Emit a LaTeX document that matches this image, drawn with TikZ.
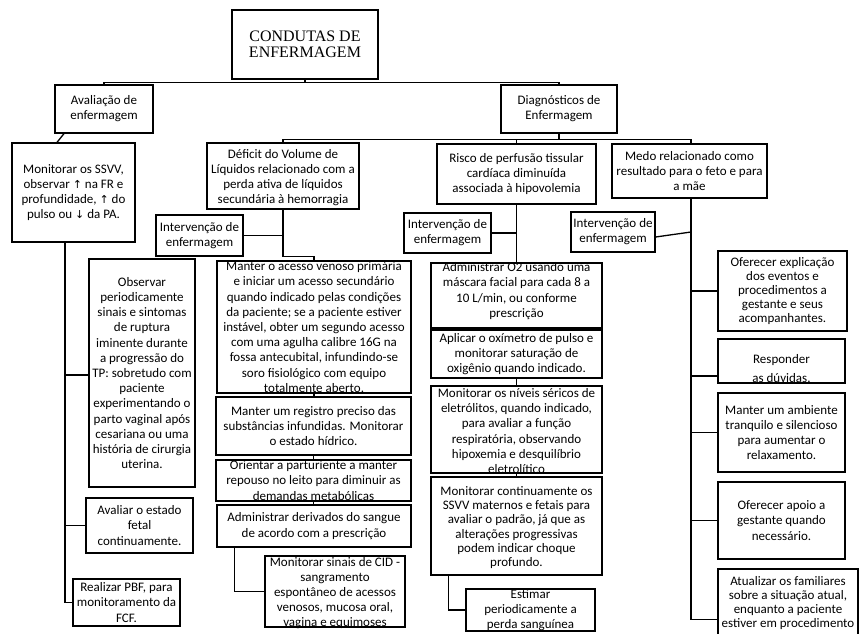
\documentclass[tikz,border=0pt]{standalone}
\usepackage{fontspec}
\setmainfont{Carlito}
\newfontfamily\titlefont{Liberation Serif}
\newfontfamily\arrfont{DejaVu Sans}
\tikzset{
  boxst/.style={draw=black, line width=1.3pt, inner sep=0pt, fill=white},
  txt/.style={inner sep=0pt, align=center, font=\fontsize{13}{15.2}\selectfont},
  tight/.style={font=\fontsize{13}{14.2}\selectfont},
  conn/.style={draw=black, line width=1.3pt},
}
\newcommand\mybox[7][]{%
  \pgfmathsetmacro\mbw{#5-#3}\pgfmathsetmacro\mbh{#6-#4}%
  \node[boxst, minimum width=\mbw pt, minimum height=\mbh pt] (#2) at ({(#3+#5)/2},{(#4+#6)/2}) {};%
  \node[txt,#1] (#2t) at (#2) {#7};}
\newcommand\up{{\arrfont\fontsize{11}{13}\selectfont ↑}}
\newcommand\dn{{\arrfont\fontsize{11}{13}\selectfont ↓}}
\begin{document}
\begin{tikzpicture}[x=1pt,y=-1pt]
\useasboundingbox (0,0) rectangle (859,634);
% boxes
\mybox[font=\titlefont\fontsize{16}{16.5}\selectfont]{title}{232}{10}{378}{79}{CONDUTAS DE\\ENFERMAGEM}
\mybox{aval}{55}{85}{153}{133}{Avaliação de\\enfermagem}
\mybox{diag}{501}{85}{617}{133}{Diagnósticos de\\Enfermagem}
% left column
\mybox{ssvv}{12}{143}{135}{242}{Monitorar os SSVV,\\observar \up\ na FR e\\profundidade, \up\ do\\pulso ou \dn\ da PA.}
\mybox{obs}{89}{259}{195}{487}{Observar\\periodicamente\\sinais e sintomas\\de ruptura\\iminente durante\\a progressão do\\TP: sobretudo com\\paciente\\experimentando o\\parto vaginal após\\cesariana ou uma\\história de cirurgia\\uterina.}
\mybox{fetal}{86}{498}{193}{553}{Avaliar o estado\\fetal\\continuamente.}
\mybox{pbf}{73}{579}{180}{626}{Realizar PBF, para\\monitoramento da\\FCF.}
% deficit column
\mybox[yshift=-1.5pt]{def}{207}{143}{359}{209}{Déficit do Volume de\\Líquidos relacionado com a\\perda ativa de líquidos\\secundária à hemorragia}
\mybox{intA}{156}{215}{243}{256}{Intervenção de\\enfermagem}
\mybox{acesso}{217}{261}{411}{393}{Manter o acesso venoso primária\\e iniciar um acesso secundário\\quando indicado pelas condições\\da paciente; se a paciente estiver\\instável, obter um segundo acesso\\com uma agulha calibre 16G na\\fossa antecubital, infundindo-se\\soro fisiológico com equipo\\totalmente aberto.}
\mybox{reg}{216}{397}{411}{455}{Manter um registro preciso das\\substâncias infundidas. Monitorar\\o estado hídrico.}
\mybox{ori}{216}{460}{411}{501}{Orientar a parturiente a manter\\repouso no leito para diminuir as\\demandas metabólicas}
\mybox{adm}{217}{505}{411}{547}{Administrar derivados do sangue\\de acordo com a prescrição}
\mybox[yshift=-1.5pt]{cid}{265}{556}{405}{627}{Monitorar sinais de CID -\\sangramento\\espontâneo de acessos\\venosos, mucosa oral,\\vagina e equimoses}
% risco column
\mybox{risco}{437}{144}{596}{204}{Risco de perfusão tissular\\cardíaca diminuída\\associada à hipovolemia}
\mybox{intB}{404}{213}{491}{253}{Intervenção de\\enfermagem}
\mybox[yshift=4.5pt]{otwo}{431}{263}{602}{328}{Administrar O2 usando uma\\máscara facial para cada 8 a\\10 L/min, ou conforme\\prescrição}
\mybox{apl}{431}{330}{602}{378}{Aplicar o oxímetro de pulso e\\monitorar saturação de\\oxigênio quando indicado.}
\mybox[yshift=-1.5pt]{niv}{431}{386}{602}{473}{Monitorar os níveis séricos de\\eletrólitos, quando indicado,\\para avaliar a função\\respiratória, observando\\hipoxemia e desquilíbrio\\eletrolítico}
\mybox[yshift=-1.5pt,tight]{cont}{431}{477}{602}{575}{Monitorar continuamente os\\SSVV maternos e fetais para\\avaliar o padrão, já que as\\alterações progressivas\\podem indicar choque\\profundo.}
\mybox{est}{466}{589}{595}{631}{Estimar\\periodicamente a\\perda sanguínea}
% medo column
\mybox{medo}{612}{144}{767}{198}{Medo relacionado como\\resultado para o feto e para\\a mãe}
\mybox{intC}{571}{212}{655}{252}{Intervenção de\\enfermagem}
\mybox[tight]{expl}{718}{251}{847}{331}{Oferecer explicação\\dos eventos e\\procedimentos a\\gestante e seus\\acompanhantes.}
\mybox[yshift=-7.5pt]{resp}{718}{339}{845}{383}{Responder\\[4pt]as dúvidas.}
\mybox{amb}{718}{393}{845}{472}{Manter um ambiente\\tranquilo e silencioso\\para aumentar o\\relaxamento.}
\mybox{apoio}{718}{482}{845}{559}{Oferecer apoio a\\gestante quando\\necessário.}
\mybox[yshift=6pt,font=\fontsize{13}{14}\selectfont]{atual}{718}{569}{858}{650}{Atualizar os familiares\\sobre a situação atual,\\enquanto a paciente\\estiver em procedimento}
% connectors
\draw[conn] (title.south) -- ++(0,3) coordinate (tb) -| (aval.north);
\draw[conn] (tb) -| (diag.north);
\draw[conn] (diag.south) -- ++(0,6) coordinate (db) -| (def.north);
\draw[conn] (db) -| (risco.north);
\draw[conn] (db) -| ([xshift=1.5pt]medo.north);
\draw[conn] ([xshift=-40pt]aval.south) -- ([xshift=-16.5pt]ssvv.north);
\coordinate (sv) at ([xshift=-8.5pt]ssvv.south);
\draw[conn] (sv) |- ([yshift=-2pt]obs.west);
\draw[conn] (sv) |- (fetal.west);
\draw[conn] (sv) |- (pbf.west);
\draw[conn] (def.south) |- ([yshift=4pt]acesso.north) -- (acesso.north);
\draw[conn] (intA.east) -- (intA.east -| def.south);
\draw[conn] (acesso.south) -- (acesso.south |- reg.north);
\draw[conn] (reg.south) -- (reg.south |- ori.north);
\draw[conn] (ori.south) -- (ori.south |- adm.north);
\draw[conn] ([xshift=18pt]adm.south west) |- (cid.west);
\draw[conn] (risco.south) -- (otwo.north);
\draw[conn] (intB.east) -- (intB.east -| risco.south);
\draw[conn] (otwo.south) -- (apl.north);
\draw[conn] (apl.south) -- (niv.north);
\draw[conn] (niv.south) -- (cont.north);
\draw[conn] ([xshift=18pt]cont.south west) |- (est.west);
\coordinate (mc) at ([xshift=1.5pt]medo.south);
\draw[conn] (mc) |- ([yshift=-15pt]resp.west);
\draw[conn] (mc) |- ([yshift=-10pt]atual.west);
\draw[conn] (mc |- intC.east) -- ([yshift=-5pt]intC.east);
\draw[conn] (mc |- expl.west) -- (expl.west);
\draw[conn] (mc |- amb.west) -- (amb.west);
\draw[conn] (mc |- apoio.west) -- (apoio.west);
\end{tikzpicture}
\end{document}
